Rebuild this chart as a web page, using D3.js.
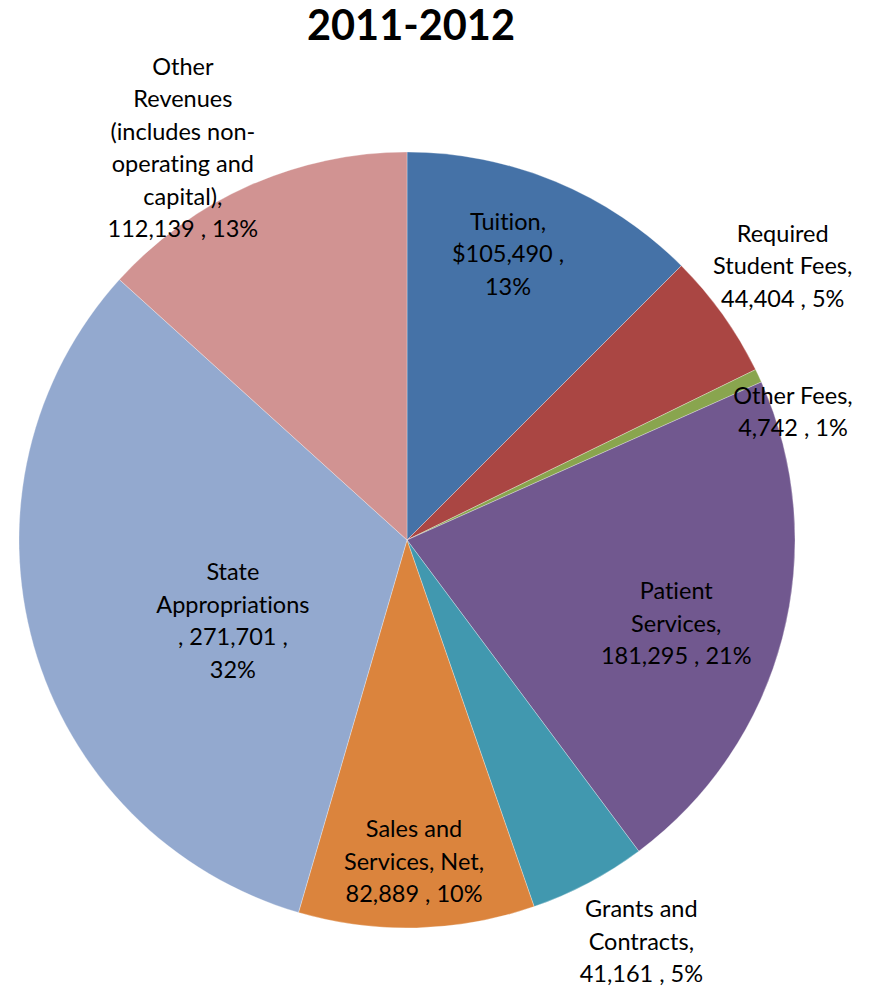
<!DOCTYPE html>
<html>
<head>
<meta charset="utf-8">
<script src="https://cdn.jsdelivr.net/npm/d3@7"></script>
<style>
  html, body { margin: 0; padding: 0; background: #fff; }
  svg text { font-family: Lato, "Open Sans", sans-serif; fill: #000; font-variant-ligatures: none; }
</style>
</head>
<body>
<svg id="chart" width="881" height="990"></svg>
<script>
// ---- data ----
const title = "2011-2012";
const categories = [
  "Tuition", "Required Student Fees", "Other Fees", "Patient Services",
  "Grants and Contracts", "Sales and Services, Net", "State Appropriations",
  "Other Revenues (includes non-operating and capital)"
];
const values = [105490, 44404, 4742, 181295, 41161, 82889, 271701, 112139];
const colors = ["#4572A7", "#AA4643", "#89A54E", "#71588F", "#4198AF", "#DB843D", "#93A9CF", "#D19392"];
// label line templates ({v} = value, {p} = percent)
const labelLines = [
  ["Tuition,", "${v} ,", "{p}"],
  ["Required", "Student Fees,", "{v} , {p}"],
  ["Other Fees,", "{v} , {p}"],
  ["Patient", "Services,", "{v} , {p}"],
  ["Grants and", "Contracts,", "{v} , {p}"],
  ["Sales and", "Services, Net,", "{v} , {p}"],
  ["State", "Appropriations", ", {v} ,", "{p}"],
  ["Other", "Revenues", "(includes non-", "operating and", "capital),", "{v} , {p}"]
];
// label placement: [angle in degrees clockwise from top, radius factor]
const labelPolar = [
  [19.4, 0.784], [53.8, 1.2], [71.5, 1.049], [107.1, 0.726],
  [149.7, 1.197], [178.75, 0.827], [245.3, 0.494], [330.3, 1.166]
];

// ---- layout ----
const cx = 407, cy = 540, R = 388;
const svg = d3.select("#chart");

svg.append("text")
  .attr("x", 411).attr("y", 24)
  .attr("text-anchor", "middle").attr("dominant-baseline", "central")
  .style("font-weight", "bold").style("font-size", "41.5px")
  .text(title);

const total = d3.sum(values);
const pie = d3.pie().sort(null).value(d => d)(values);
const arc = d3.arc().innerRadius(0).outerRadius(R);
const g = svg.append("g").attr("transform", `translate(${cx},${cy})`);

g.selectAll("path").data(pie).join("path")
  .attr("d", arc)
  .attr("fill", (d, i) => colors[i])
  .attr("stroke", "#fff").attr("stroke-width", 0.3);

const fmt = d3.format(",");
const lh = 32.5;
pie.forEach((d, i) => {
  const pct = Math.round(d.value / total * 100) + "%";
  const lines = labelLines[i].map(s => s.replace("{v}", fmt(d.value)).replace("{p}", pct));
  const a = labelPolar[i][0] * Math.PI / 180, rr = labelPolar[i][1] * R;
  const x = Math.sin(a) * rr, y = -Math.cos(a) * rr;
  const t = g.append("text")
    .attr("text-anchor", "middle")
    .style("font-size", "23.5px");
  lines.forEach((ln, j) => {
    t.append("tspan")
      .attr("x", x)
      .attr("y", y + (j - (lines.length - 1) / 2) * lh)
      .attr("dominant-baseline", "central")
      .text(ln);
  });
});
</script>
</body>
</html>
